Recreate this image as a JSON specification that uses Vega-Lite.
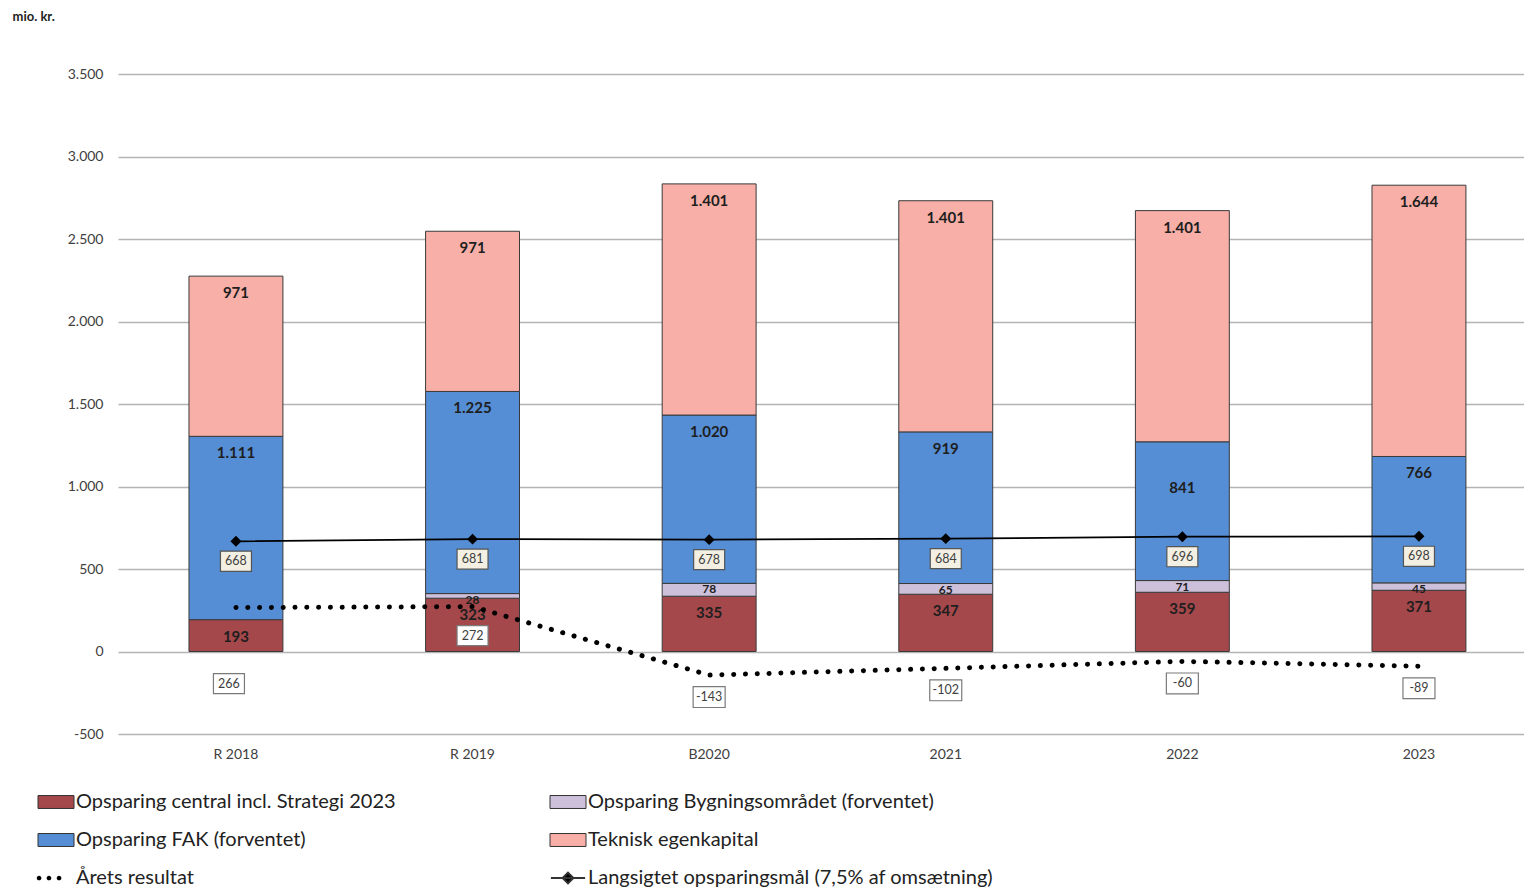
{
  "$schema": "https://vega.github.io/schema/vega-lite/v6.json",
  "width": 1406,
  "height": 660,
  "autosize": {"type": "none"},
  "padding": {"left": 118, "top": 74, "right": 0, "bottom": 155},
  "config": {
    "font": "Lato",
    "view": {"stroke": null},
    "locale": {"number": {"decimal": ",", "thousands": ".", "grouping": [3], "currency": ["", ""], "minus": "-"}}
  },
  "datasets": {
    "bars": [
      {"year": "R 2018", "serie": "Opsparing central incl. Strategi 2023", "k": 1, "value": 193},
      {"year": "R 2018", "serie": "Opsparing FAK (forventet)", "k": 3, "value": 1111},
      {"year": "R 2018", "serie": "Teknisk egenkapital", "k": 4, "value": 971},
      {"year": "R 2019", "serie": "Opsparing central incl. Strategi 2023", "k": 1, "value": 323},
      {"year": "R 2019", "serie": "Opsparing Bygningsområdet (forventet)", "k": 2, "value": 28},
      {"year": "R 2019", "serie": "Opsparing FAK (forventet)", "k": 3, "value": 1225},
      {"year": "R 2019", "serie": "Teknisk egenkapital", "k": 4, "value": 971},
      {"year": "B2020", "serie": "Opsparing central incl. Strategi 2023", "k": 1, "value": 335},
      {"year": "B2020", "serie": "Opsparing Bygningsområdet (forventet)", "k": 2, "value": 78},
      {"year": "B2020", "serie": "Opsparing FAK (forventet)", "k": 3, "value": 1020},
      {"year": "B2020", "serie": "Teknisk egenkapital", "k": 4, "value": 1401},
      {"year": "2021", "serie": "Opsparing central incl. Strategi 2023", "k": 1, "value": 347},
      {"year": "2021", "serie": "Opsparing Bygningsområdet (forventet)", "k": 2, "value": 65},
      {"year": "2021", "serie": "Opsparing FAK (forventet)", "k": 3, "value": 919},
      {"year": "2021", "serie": "Teknisk egenkapital", "k": 4, "value": 1401},
      {"year": "2022", "serie": "Opsparing central incl. Strategi 2023", "k": 1, "value": 359},
      {"year": "2022", "serie": "Opsparing Bygningsområdet (forventet)", "k": 2, "value": 71},
      {"year": "2022", "serie": "Opsparing FAK (forventet)", "k": 3, "value": 841},
      {"year": "2022", "serie": "Teknisk egenkapital", "k": 4, "value": 1401},
      {"year": "2023", "serie": "Opsparing central incl. Strategi 2023", "k": 1, "value": 371},
      {"year": "2023", "serie": "Opsparing Bygningsområdet (forventet)", "k": 2, "value": 45},
      {"year": "2023", "serie": "Opsparing FAK (forventet)", "k": 3, "value": 766},
      {"year": "2023", "serie": "Teknisk egenkapital", "k": 4, "value": 1644}
    ],
    "lines": [
      {"year": "R 2018", "goal": 668, "result": 266},
      {"year": "R 2019", "goal": 681, "result": 272},
      {"year": "B2020", "goal": 678, "result": -143},
      {"year": "2021", "goal": 684, "result": -102},
      {"year": "2022", "goal": 696, "result": -60},
      {"year": "2023", "goal": 698, "result": -89}
    ]
  },
  "encoding": {
    "x": {
      "field": "year",
      "type": "nominal",
      "sort": ["R 2018", "R 2019", "B2020", "2021", "2022", "2023"],
      "scale": {"type": "band", "paddingInner": 0.603, "paddingOuter": 0.2727, "align": 0.55},
      "axis": {
        "title": null,
        "domain": false,
        "ticks": false,
        "labelAngle": 0,
        "labelFontSize": 14,
        "labelColor": "#404040",
        "labelPadding": 13
      }
    }
  },
  "layer": [
    {
      "data": {"name": "bars"},
      "transform": [
        {"stack": "value", "groupby": ["year"], "sort": [{"field": "k"}], "as": ["v0", "v1"]}
      ],
      "layer": [
        {
          "mark": {"type": "bar", "stroke": "#3a3a3a", "strokeWidth": 1},
          "encoding": {
            "y": {
              "field": "v0",
              "type": "quantitative",
              "scale": {"domain": [-500, 3500], "nice": false, "zero": false},
              "axis": {
                "title": "mio. kr.",
                "titleAngle": 0,
                "titleAlign": "left",
                "titleBaseline": "middle",
                "titleX": -106,
                "titleY": -58,
                "titleFontSize": 13,
                "titleFontWeight": "bold",
                "titleColor": "#222222",
                "values": [-500, 0, 500, 1000, 1500, 2000, 2500, 3000, 3500],
                "format": ",d",
                "domain": false,
                "ticks": false,
                "labelFontSize": 14,
                "labelColor": "#404040",
                "labelPadding": 15,
                "gridColor": "#B4B4B4",
                "gridWidth": 1.5
              }
            },
            "y2": {"field": "v1"},
            "color": {
              "field": "serie",
              "type": "nominal",
              "scale": {
                "domain": [
                  "Opsparing central incl. Strategi 2023",
                  "Opsparing FAK (forventet)",
                  "Årets resultat",
                  "Opsparing Bygningsområdet (forventet)",
                  "Teknisk egenkapital",
                  "Langsigtet opsparingsmål (7,5% af omsætning)"
                ],
                "range": ["#A5484B", "#558ED5", "#000000", "#CCC0DA", "#F7AFA7", "#000000"]
              },
              "legend": {
                "title": null,
                "orient": "none",
                "legendX": -72,
                "legendY": 718,
                "direction": "vertical",
                "columns": 2,
                "columnPadding": 150,
                "rowPadding": 18,
                "symbolType": "M-1,-0.36H1V0.36H-1Z",
                "symbolSize": 1296,
                "symbolStrokeColor": "#333333",
                "symbolStrokeWidth": 1,
                "labelFontSize": 20,
                "labelColor": "#222222",
                "labelOffset": 10,
                "labelLimit": 700,
                "encode": {
                  "symbols": {
                    "update": {
                      "shape": {"signal": "datum.value === 'Årets resultat' ? 'M-0.81,0a0.13,0.13 0 1,0 -0.26,0a0.13,0.13 0 1,0 0.26,0ZM-0.26,0a0.13,0.13 0 1,0 -0.26,0a0.13,0.13 0 1,0 0.26,0ZM0.30,0a0.13,0.13 0 1,0 -0.26,0a0.13,0.13 0 1,0 0.26,0Z' : (datum.value === 'Langsigtet opsparingsmål (7,5% af omsætning)' ? 'M-0.95,0H0.95M0,-0.3L0.3,0L0,0.3L-0.3,0Z' : 'M-1,-0.36H1V0.36H-1Z')"},
                      "strokeWidth": {"signal": "datum.value === 'Årets resultat' ? 0 : (datum.value === 'Langsigtet opsparingsmål (7,5% af omsætning)' ? 2 : 1)"},
                      "stroke": {"value": "#333333"}
                    }
                  }
                }
              }
            }
          }
        },
        {
          "transform": [{"filter": "datum.k !== 2 && !(datum.k === 3 && datum.year === '2022')"}],
          "mark": {"type": "text", "dy": 17, "fontSize": 15, "fontWeight": "bold", "color": "#1e1e1e"},
          "encoding": {
            "y": {"field": "v1", "type": "quantitative"},
            "text": {"field": "value", "type": "quantitative", "format": ",d"}
          }
        },
        {
          "transform": [{"filter": "datum.k === 3 && datum.year === '2022'"}],
          "mark": {"type": "text", "dy": 46, "fontSize": 15, "fontWeight": "bold", "color": "#1e1e1e"},
          "encoding": {
            "y": {"field": "v1", "type": "quantitative"},
            "text": {"field": "value", "type": "quantitative", "format": ",d"}
          }
        },
        {
          "transform": [{"filter": "datum.k === 2"}],
          "mark": {"type": "text", "dy": 6, "fontSize": 12, "fontWeight": "bold", "color": "#1e1e1e"},
          "encoding": {
            "y": {"field": "v1", "type": "quantitative"},
            "text": {"field": "value", "type": "quantitative", "format": ",d"}
          }
        }
      ]
    },
    {
      "data": {"name": "lines"},
      "layer": [
        {
          "mark": {"type": "line", "color": "#000000", "strokeWidth": 5, "strokeCap": "round", "strokeDash": [0.1, 11.7]},
          "encoding": {"y": {"field": "result", "type": "quantitative"}}
        },
        {
          "mark": {"type": "line", "color": "#000000", "strokeWidth": 1.8},
          "encoding": {"y": {"field": "goal", "type": "quantitative"}}
        },
        {
          "mark": {"type": "point", "shape": "diamond", "filled": true, "color": "#000000", "size": 120, "opacity": 1},
          "encoding": {"y": {"field": "goal", "type": "quantitative"}}
        },
        {
          "mark": {"type": "point", "shape": "M-1,-0.65H1V0.65H-1Z", "size": 961, "filled": true, "fill": "#F3F0E3", "stroke": "#555555", "strokeWidth": 1.2, "opacity": 1, "yOffset": 20},
          "encoding": {"y": {"field": "goal", "type": "quantitative"}}
        },
        {
          "mark": {"type": "text", "fontSize": 12.5, "color": "#404040", "yOffset": 20},
          "encoding": {
            "y": {"field": "goal", "type": "quantitative"},
            "text": {"field": "goal", "type": "quantitative", "format": "d"}
          }
        },
        {
          "transform": [{"filter": "datum.year === 'R 2018'"}],
          "layer": [
            {
              "mark": {"type": "point", "shape": "M-1,-0.65H1V0.65H-1Z", "size": 961, "filled": true, "fill": "#FFFFFF", "stroke": "#7a7a7a", "strokeWidth": 1.2, "opacity": 1, "yOffset": 76, "xOffset": -7},
              "encoding": {"y": {"field": "result", "type": "quantitative"}}
            },
            {
              "mark": {"type": "text", "fontSize": 12.5, "color": "#404040", "yOffset": 76, "xOffset": -7},
              "encoding": {"y": {"field": "result", "type": "quantitative"}, "text": {"field": "result", "type": "quantitative", "format": "d"}}
            }
          ]
        },
        {
          "transform": [{"filter": "datum.year === 'R 2019'"}],
          "layer": [
            {
              "mark": {"type": "point", "shape": "M-1,-0.65H1V0.65H-1Z", "size": 961, "filled": true, "fill": "#FFFFFF", "stroke": "#7a7a7a", "strokeWidth": 1.2, "opacity": 1, "yOffset": 29},
              "encoding": {"y": {"field": "result", "type": "quantitative"}}
            },
            {
              "mark": {"type": "text", "fontSize": 12.5, "color": "#404040", "yOffset": 29},
              "encoding": {"y": {"field": "result", "type": "quantitative"}, "text": {"field": "result", "type": "quantitative", "format": "d"}}
            }
          ]
        },
        {
          "transform": [{"filter": "datum.year !== 'R 2018' && datum.year !== 'R 2019'"}],
          "layer": [
            {
              "mark": {"type": "point", "shape": "M-1,-0.65H1V0.65H-1Z", "size": 1024, "filled": true, "fill": "#FFFFFF", "stroke": "#7a7a7a", "strokeWidth": 1.2, "opacity": 1, "yOffset": 22},
              "encoding": {"y": {"field": "result", "type": "quantitative"}}
            },
            {
              "mark": {"type": "text", "fontSize": 12.5, "color": "#404040", "yOffset": 22},
              "encoding": {"y": {"field": "result", "type": "quantitative"}, "text": {"field": "result", "type": "quantitative", "format": "d"}}
            }
          ]
        }
      ]
    }
  ]
}
